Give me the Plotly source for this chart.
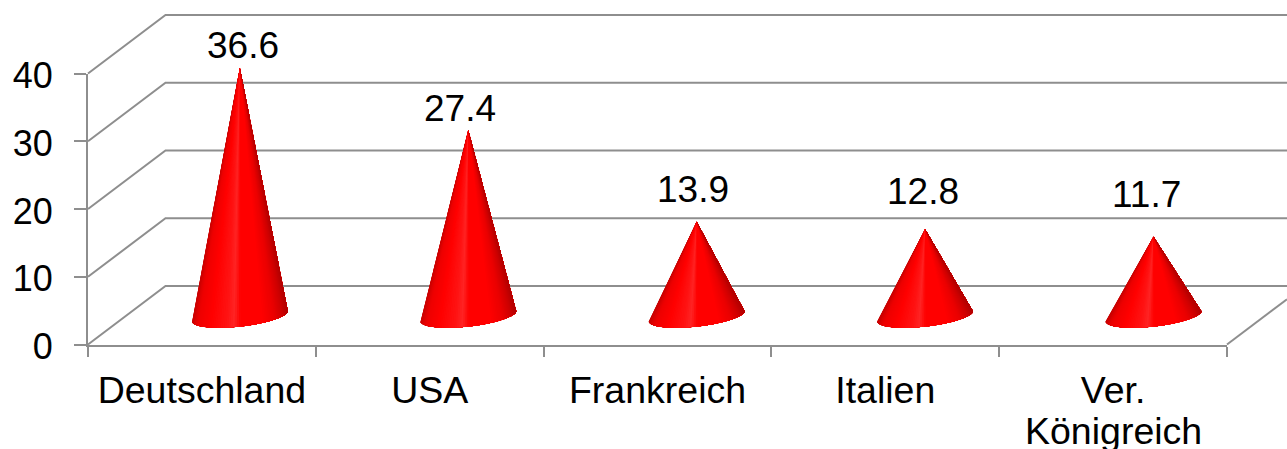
import numpy as np
import plotly.graph_objects as go

categories = ["Deutschland", "USA", "Frankreich", "Italien", "Ver."]
last_category_second_line = "Königreich"
values = [36.6, 27.4, 13.9, 12.8, 11.7]
y_ticks = [0, 10, 20, 30, 40]
value_labels = ["36.6", "27.4", "13.9", "12.8", "11.7"]

W, H = 1287, 449
LEFT, RIGHT, TOP, BOTTOM = 88, 1227, 73.5, 344.5
GREY = "#8e8e8e"
FONT = "Liberation Sans"

px_x = (RIGHT - LEFT) / 5          # pixels per category
px_y = (BOTTOM - TOP) / 40         # pixels per value unit
DX = 77.5 / px_x                   # depth of the floor, in x units
DY = 58.5 / px_y                   # depth of the floor, in y units
CONE_STEP = 228.4 / px_x           # spacing of the cones
CONE_X0 = DX / 2 - 0.8 / px_x      # x of the first cone
X2_MAX = -0.5 + (W - LEFT) / px_x  # right end of the canvas, in x units

# Horizontal shading across a cone, left to right
shade_u = [0.0, 0.04, 0.12, 0.24, 0.46, 0.53, 0.60, 0.78, 0.92, 1.0]
shade_g = [0, 0, 0, 0, 0, 36, 20, 0, 0, 0]
shade_r = [180, 205, 235, 255, 255, 255, 255, 255, 238, 200]

fig = go.Figure()

# Category axis with invisible carrier trace
fig.add_trace(go.Scatter(x=categories, y=values, mode="markers", marker=dict(opacity=0),
                         hoverinfo="skip", showlegend=False))

# Floor and back wall grid, on a hidden full-canvas axis pair
gx, gy = [], []
for t in y_ticks:
    gx += [-0.5, -0.5 + DX, X2_MAX, None]
    gy += [t, t + DY, t + DY, None]
gx += [4.5, X2_MAX, None]
gy += [0, 60 / 77.5 * DY, None]
fig.add_trace(go.Scatter(x=gx, y=gy, mode="lines", xaxis="x2", yaxis="y2",
                         line=dict(color=GREY, width=2), hoverinfo="skip", showlegend=False))

# Cones: overlapping fans from apex to the front arc of a tilted base ellipse (painter's order)
A = (48 / px_x, 4.5 / px_y)
B = (-3 / px_x, -11 / px_y)
ts = np.linspace(np.pi, 0, 73)
BASE_Y = DY / 2 - 0.1
for i, v in enumerate(values):
    cx, cy = CONE_X0 + i * CONE_STEP, BASE_Y
    arc_x = cx + A[0] * np.cos(ts) + B[0] * np.sin(ts)
    arc_y = cy + A[1] * np.cos(ts) + B[1] * np.sin(ts)
    for k in range(len(ts) - 1):
        u = 0.5 - 0.5 * np.cos((ts[k] + ts[k + 1]) / 2)
        r = int(np.interp(u, shade_u, shade_r))
        g = int(np.interp(u, shade_u, shade_g))
        col = f"rgb({r},{g},{g})"
        xs = [cx] + list(arc_x[k:]) + [cx]
        ys = [cy + v] + list(arc_y[k:]) + [cy + v]
        fig.add_trace(go.Scatter(x=xs, y=ys, mode="lines", xaxis="x2", yaxis="y2", fill="toself",
                                 fillcolor=col, line=dict(width=0),
                                 hoverinfo="skip", showlegend=False))

# Data labels, nudged as in the original
label_dx = [3, -8, -4, -2, -7]
label_dy = [22, 22, 32, 38, 42]
for i, v in enumerate(values):
    fig.add_annotation(x=CONE_X0 + i * CONE_STEP, y=BASE_Y + v, xref="x2", yref="y2", text=value_labels[i],
                       showarrow=False, xshift=label_dx[i], yshift=label_dy[i],
                       font=dict(family=FONT, size=37, color="black"))

# Second line of the last category, with the original's tight line spacing
fig.add_annotation(x=4, y=(BOTTOM - 431) / px_y, xref="x2", yref="y2", text=last_category_second_line,
                   showarrow=False, font=dict(family=FONT, size=37.5, color="black"))

dom_x = [LEFT / W, RIGHT / W]
dom_y = [(H - BOTTOM) / H, (H - TOP) / H]
fig.update_layout(
    width=W, height=H, autosize=False,
    margin=dict(l=0, r=0, t=0, b=0, pad=0),
    paper_bgcolor="white", plot_bgcolor="rgba(0,0,0,0)", showlegend=False,
    font=dict(family=FONT, size=36, color="black"),
    xaxis=dict(type="category", categoryorder="array", categoryarray=categories, domain=dom_x,
               range=[-0.5, 4.5], tickson="boundaries", ticks="outside", ticklen=10, tickwidth=2,
               tickcolor=GREY, showline=True, linecolor=GREY, linewidth=2, showgrid=False,
               zeroline=False, tickangle=0, ticklabelstandoff=11, automargin=False,
               tickfont=dict(family=FONT, size=37.5, color="black")),
    xaxis2=dict(domain=[0, 1], anchor="y2", range=[-0.5 - LEFT / px_x, X2_MAX], visible=False),
    yaxis=dict(domain=dom_y, range=[0, 40], tickvals=y_ticks, ticks="outside", ticklen=12, tickwidth=2,
               tickcolor=GREY, showline=True, linecolor=GREY, linewidth=2, showgrid=False,
               zeroline=False, ticklabelstandoff=14, ticklabelshift=2, automargin=False,
               tickfont=dict(family=FONT, size=36, color="black")),
    yaxis2=dict(domain=[0, 1], anchor="x2", range=[-(H - BOTTOM) / px_y, BOTTOM / px_y], visible=False),
)
fig.write_html("out.html", config={"displayModeBar": False},
               post_script="document.body.style.margin='0';")
